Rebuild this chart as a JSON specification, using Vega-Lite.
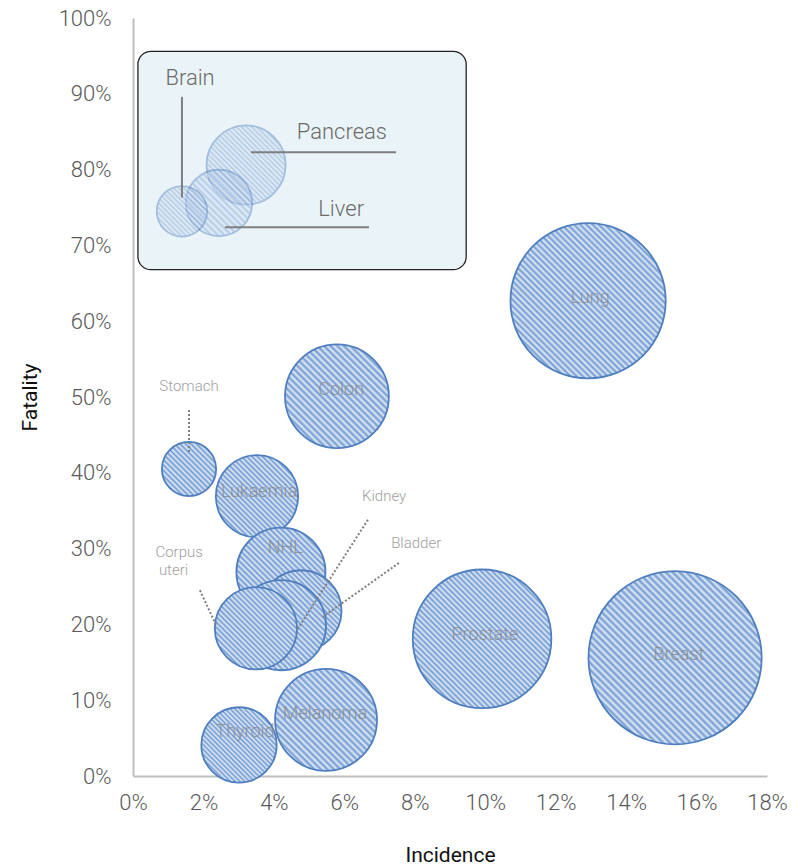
{
  "$schema": "https://vega.github.io/schema/vega-lite/v6.json",
  "width": 634,
  "height": 758,
  "autosize": "none",
  "padding": {"left": 133, "top": 18, "right": 38, "bottom": 90},
  "background": "white",
  "config": {
    "font": "Roboto",
    "view": {"stroke": null},
    "axis": {"grid": false, "ticks": false, "labelFlush": false, "labelOverlap": false, "domainColor": "#bfbfbf", "domainWidth": 2, "labelColor": "#595959", "labelFont": "Roboto", "labelFontSize": 22, "labelFontWeight": 300, "titleFont": "Roboto", "titleFontSize": 21, "titleFontWeight": "normal", "titleColor": "#111111"}
  },
  "datasets": {
    "bubbles": [
      {"name": "Lung", "incidence": 12.92, "fatality": 62.7, "size": 246, "group": "L", "inset": false},
      {"name": "Breast", "incidence": 15.39, "fatality": 15.6, "size": 306, "group": "L", "inset": false},
      {"name": "Prostate", "incidence": 9.91, "fatality": 18.1, "size": 196, "group": "L", "inset": false},
      {"name": "Colon", "incidence": 5.79, "fatality": 50.1, "size": 110, "group": "M", "inset": false},
      {"name": "Lukaemia", "incidence": 3.52, "fatality": 36.9, "size": 69, "group": "M", "inset": false},
      {"name": "NHL", "incidence": 4.2, "fatality": 26.9, "size": 81, "group": "M", "inset": false},
      {"name": "Bladder", "incidence": 4.77, "fatality": 21.8, "size": 67, "group": "M", "inset": false},
      {"name": "Kidney", "incidence": 4.2, "fatality": 19.9, "size": 83, "group": "M", "inset": false},
      {"name": "Corpus uteri", "incidence": 3.49, "fatality": 19.5, "size": 69, "group": "M", "inset": false},
      {"name": "Melanoma", "incidence": 5.48, "fatality": 7.4, "size": 106, "group": "M", "inset": false},
      {"name": "Thyroid", "incidence": 3.01, "fatality": 4.1, "size": 58, "group": "M", "inset": false},
      {"name": "Pancreas", "incidence": 3.21, "fatality": 80.6, "size": 64, "group": "M", "inset": true},
      {"name": "Stomach", "incidence": 1.59, "fatality": 40.5, "size": 30, "group": "S", "inset": false},
      {"name": "Liver", "incidence": 2.44, "fatality": 75.6, "size": 45, "group": "S", "inset": true},
      {"name": "Brain", "incidence": 1.39, "fatality": 74.5, "size": 26, "group": "S", "inset": true}
    ],
    "box": [{"x": 0.14, "x2": 9.46, "y": 95.6, "y2": 66.8}],
    "innerLabels": [
      {"label": "Lung", "x": 12.98, "y": 63.1},
      {"label": "Colon", "x": 5.91, "y": 50.9},
      {"label": "Lukaemia", "x": 3.58, "y": 37.5},
      {"label": "NHL", "x": 4.32, "y": 30.1},
      {"label": "Prostate", "x": 9.99, "y": 18.6},
      {"label": "Breast", "x": 15.5, "y": 16.0},
      {"label": "Melanoma", "x": 5.45, "y": 8.2},
      {"label": "Thyroid", "x": 3.18, "y": 5.8}
    ],
    "outerLabels": [
      {"label": "Stomach", "x": 1.59, "y": 51.5},
      {"label": "Kidney", "x": 7.13, "y": 36.9},
      {"label": "Bladder", "x": 8.04, "y": 30.7},
      {"label": "Corpus", "x": 1.31, "y": 29.6},
      {"label": "uteri", "x": 1.15, "y": 27.2}
    ],
    "insetLabels": [
      {"label": "Brain", "x": 1.62, "y": 92.1},
      {"label": "Pancreas", "x": 5.93, "y": 85.0},
      {"label": "Liver", "x": 5.91, "y": 74.8}
    ],
    "dotted": [
      {"x": 1.59, "y": 48.3, "x2": 1.59, "y2": 42.7},
      {"x": 6.67, "y": 33.8, "x2": 4.66, "y2": 19.3},
      {"x": 7.55, "y": 28.1, "x2": 5.39, "y2": 21.0},
      {"x": 1.9, "y": 24.5, "x2": 2.36, "y2": 19.9}
    ],
    "solid": [
      {"x": 1.39, "y": 89.6, "x2": 1.39, "y2": 76.3},
      {"x": 3.35, "y": 82.3, "x2": 7.47, "y2": 82.3},
      {"x": 2.61, "y": 72.4, "x2": 6.7, "y2": 72.4}
    ]
  },
  "encoding": {
    "x": {"field": "x", "type": "quantitative", "scale": {"domain": [0, 18], "nice": false}, "axis": {"title": "Incidence", "values": [0, 2, 4, 6, 8, 10, 12, 14, 16, 18], "labelExpr": "datum.value + '%'", "labelPadding": 16, "titlePadding": 31}},
    "y": {"field": "y", "type": "quantitative", "scale": {"domain": [0, 100], "nice": false}, "axis": {"title": "Fatality", "values": [0, 10, 20, 30, 40, 50, 60, 70, 80, 90, 100], "labelExpr": "datum.value + '%'", "labelPadding": 22, "titlePadding": 18}}
  },
  "layer": [
    {
      "data": {"name": "box"},
      "mark": {"type": "rect", "fill": "#eaf4f8", "stroke": "#222222", "strokeWidth": 1.3, "cornerRadius": 13},
      "encoding": {"x2": {"field": "x2"}, "y2": {"field": "y2"}}
    },
    {
      "data": {"name": "bubbles"},
      "transform": [{"filter": "datum.group == 'L'"}],
      "mark": {"type": "point", "shape": "circle", "filled": true, "stroke": "#4f7fbf", "strokeWidth": 1.8, "fill": {"gradient": "linear", "x1": 1, "y1": 0, "x2": 0, "y2": 1, "stops": [
        {"offset": 0, "color": "#729bd2"}, {"offset": 0.01, "color": "#e0e9f6"}, {"offset": 0.02, "color": "#729bd2"}, {"offset": 0.03, "color": "#e0e9f6"}, {"offset": 0.04, "color": "#729bd2"}, {"offset": 0.05, "color": "#e0e9f6"}, {"offset": 0.06, "color": "#729bd2"}, {"offset": 0.07, "color": "#e0e9f6"}, {"offset": 0.08, "color": "#729bd2"}, {"offset": 0.09, "color": "#e0e9f6"},
        {"offset": 0.1, "color": "#729bd2"}, {"offset": 0.11, "color": "#e0e9f6"}, {"offset": 0.12, "color": "#729bd2"}, {"offset": 0.13, "color": "#e0e9f6"}, {"offset": 0.14, "color": "#729bd2"}, {"offset": 0.15, "color": "#e0e9f6"}, {"offset": 0.16, "color": "#729bd2"}, {"offset": 0.17, "color": "#e0e9f6"}, {"offset": 0.18, "color": "#729bd2"}, {"offset": 0.19, "color": "#e0e9f6"},
        {"offset": 0.2, "color": "#729bd2"}, {"offset": 0.21, "color": "#e0e9f6"}, {"offset": 0.22, "color": "#729bd2"}, {"offset": 0.23, "color": "#e0e9f6"}, {"offset": 0.24, "color": "#729bd2"}, {"offset": 0.25, "color": "#e0e9f6"}, {"offset": 0.26, "color": "#729bd2"}, {"offset": 0.27, "color": "#e0e9f6"}, {"offset": 0.28, "color": "#729bd2"}, {"offset": 0.29, "color": "#e0e9f6"},
        {"offset": 0.3, "color": "#729bd2"}, {"offset": 0.31, "color": "#e0e9f6"}, {"offset": 0.32, "color": "#729bd2"}, {"offset": 0.33, "color": "#e0e9f6"}, {"offset": 0.34, "color": "#729bd2"}, {"offset": 0.35, "color": "#e0e9f6"}, {"offset": 0.36, "color": "#729bd2"}, {"offset": 0.37, "color": "#e0e9f6"}, {"offset": 0.38, "color": "#729bd2"}, {"offset": 0.39, "color": "#e0e9f6"},
        {"offset": 0.4, "color": "#729bd2"}, {"offset": 0.41, "color": "#e0e9f6"}, {"offset": 0.42, "color": "#729bd2"}, {"offset": 0.43, "color": "#e0e9f6"}, {"offset": 0.44, "color": "#729bd2"}, {"offset": 0.45, "color": "#e0e9f6"}, {"offset": 0.46, "color": "#729bd2"}, {"offset": 0.47, "color": "#e0e9f6"}, {"offset": 0.48, "color": "#729bd2"}, {"offset": 0.49, "color": "#e0e9f6"},
        {"offset": 0.5, "color": "#729bd2"}, {"offset": 0.51, "color": "#e0e9f6"}, {"offset": 0.52, "color": "#729bd2"}, {"offset": 0.53, "color": "#e0e9f6"}, {"offset": 0.54, "color": "#729bd2"}, {"offset": 0.55, "color": "#e0e9f6"}, {"offset": 0.56, "color": "#729bd2"}, {"offset": 0.57, "color": "#e0e9f6"}, {"offset": 0.58, "color": "#729bd2"}, {"offset": 0.59, "color": "#e0e9f6"},
        {"offset": 0.6, "color": "#729bd2"}, {"offset": 0.61, "color": "#e0e9f6"}, {"offset": 0.62, "color": "#729bd2"}, {"offset": 0.63, "color": "#e0e9f6"}, {"offset": 0.64, "color": "#729bd2"}, {"offset": 0.65, "color": "#e0e9f6"}, {"offset": 0.66, "color": "#729bd2"}, {"offset": 0.67, "color": "#e0e9f6"}, {"offset": 0.68, "color": "#729bd2"}, {"offset": 0.69, "color": "#e0e9f6"},
        {"offset": 0.7, "color": "#729bd2"}, {"offset": 0.71, "color": "#e0e9f6"}, {"offset": 0.72, "color": "#729bd2"}, {"offset": 0.73, "color": "#e0e9f6"}, {"offset": 0.74, "color": "#729bd2"}, {"offset": 0.75, "color": "#e0e9f6"}, {"offset": 0.76, "color": "#729bd2"}, {"offset": 0.77, "color": "#e0e9f6"}, {"offset": 0.78, "color": "#729bd2"}, {"offset": 0.79, "color": "#e0e9f6"},
        {"offset": 0.8, "color": "#729bd2"}, {"offset": 0.81, "color": "#e0e9f6"}, {"offset": 0.82, "color": "#729bd2"}, {"offset": 0.83, "color": "#e0e9f6"}, {"offset": 0.84, "color": "#729bd2"}, {"offset": 0.85, "color": "#e0e9f6"}, {"offset": 0.86, "color": "#729bd2"}, {"offset": 0.87, "color": "#e0e9f6"}, {"offset": 0.88, "color": "#729bd2"}, {"offset": 0.89, "color": "#e0e9f6"},
        {"offset": 0.9, "color": "#729bd2"}, {"offset": 0.91, "color": "#e0e9f6"}, {"offset": 0.92, "color": "#729bd2"}, {"offset": 0.93, "color": "#e0e9f6"}, {"offset": 0.94, "color": "#729bd2"}, {"offset": 0.95, "color": "#e0e9f6"}, {"offset": 0.96, "color": "#729bd2"}, {"offset": 0.97, "color": "#e0e9f6"}, {"offset": 0.98, "color": "#729bd2"}, {"offset": 0.99, "color": "#e0e9f6"},
        {"offset": 1, "color": "#729bd2"}
      ]}},
      "encoding": {
        "x": {"field": "incidence"},
        "y": {"field": "fatality"},
        "size": {"field": "size", "type": "quantitative", "scale": {"type": "linear", "domain": [0, 300], "range": [0, 29400], "zero": true}, "legend": null},
        "opacity": {"condition": {"test": "datum.inset", "value": 0.45}, "value": 1}
      }
    },
    {
      "data": {"name": "bubbles"},
      "transform": [{"filter": "datum.group == 'M'"}],
      "mark": {"type": "point", "shape": "circle", "filled": true, "stroke": "#4f7fbf", "strokeWidth": 1.8, "fill": {"gradient": "linear", "x1": 1, "y1": 0, "x2": 0, "y2": 1, "stops": [
        {"offset": 0, "color": "#729bd2"}, {"offset": 0.016, "color": "#e0e9f6"}, {"offset": 0.032, "color": "#729bd2"}, {"offset": 0.048, "color": "#e0e9f6"}, {"offset": 0.064, "color": "#729bd2"}, {"offset": 0.08, "color": "#e0e9f6"}, {"offset": 0.096, "color": "#729bd2"}, {"offset": 0.112, "color": "#e0e9f6"},
        {"offset": 0.128, "color": "#729bd2"}, {"offset": 0.144, "color": "#e0e9f6"}, {"offset": 0.16, "color": "#729bd2"}, {"offset": 0.176, "color": "#e0e9f6"}, {"offset": 0.192, "color": "#729bd2"}, {"offset": 0.208, "color": "#e0e9f6"}, {"offset": 0.224, "color": "#729bd2"}, {"offset": 0.24, "color": "#e0e9f6"},
        {"offset": 0.256, "color": "#729bd2"}, {"offset": 0.272, "color": "#e0e9f6"}, {"offset": 0.288, "color": "#729bd2"}, {"offset": 0.304, "color": "#e0e9f6"}, {"offset": 0.32, "color": "#729bd2"}, {"offset": 0.336, "color": "#e0e9f6"}, {"offset": 0.352, "color": "#729bd2"}, {"offset": 0.368, "color": "#e0e9f6"},
        {"offset": 0.384, "color": "#729bd2"}, {"offset": 0.4, "color": "#e0e9f6"}, {"offset": 0.416, "color": "#729bd2"}, {"offset": 0.432, "color": "#e0e9f6"}, {"offset": 0.448, "color": "#729bd2"}, {"offset": 0.464, "color": "#e0e9f6"}, {"offset": 0.48, "color": "#729bd2"}, {"offset": 0.496, "color": "#e0e9f6"},
        {"offset": 0.512, "color": "#729bd2"}, {"offset": 0.528, "color": "#e0e9f6"}, {"offset": 0.544, "color": "#729bd2"}, {"offset": 0.56, "color": "#e0e9f6"}, {"offset": 0.576, "color": "#729bd2"}, {"offset": 0.592, "color": "#e0e9f6"}, {"offset": 0.608, "color": "#729bd2"}, {"offset": 0.624, "color": "#e0e9f6"},
        {"offset": 0.64, "color": "#729bd2"}, {"offset": 0.656, "color": "#e0e9f6"}, {"offset": 0.672, "color": "#729bd2"}, {"offset": 0.688, "color": "#e0e9f6"}, {"offset": 0.704, "color": "#729bd2"}, {"offset": 0.72, "color": "#e0e9f6"}, {"offset": 0.736, "color": "#729bd2"}, {"offset": 0.752, "color": "#e0e9f6"},
        {"offset": 0.768, "color": "#729bd2"}, {"offset": 0.784, "color": "#e0e9f6"}, {"offset": 0.8, "color": "#729bd2"}, {"offset": 0.816, "color": "#e0e9f6"}, {"offset": 0.832, "color": "#729bd2"}, {"offset": 0.848, "color": "#e0e9f6"}, {"offset": 0.864, "color": "#729bd2"}, {"offset": 0.88, "color": "#e0e9f6"},
        {"offset": 0.896, "color": "#729bd2"}, {"offset": 0.912, "color": "#e0e9f6"}, {"offset": 0.928, "color": "#729bd2"}, {"offset": 0.944, "color": "#e0e9f6"}, {"offset": 0.96, "color": "#729bd2"}, {"offset": 0.976, "color": "#e0e9f6"}, {"offset": 0.992, "color": "#729bd2"}
      ]}},
      "encoding": {
        "x": {"field": "incidence"},
        "y": {"field": "fatality"},
        "size": {"field": "size", "type": "quantitative", "legend": null},
        "opacity": {"condition": {"test": "datum.inset", "value": 0.45}, "value": 1}
      }
    },
    {
      "data": {"name": "bubbles"},
      "transform": [{"filter": "datum.group == 'S'"}],
      "mark": {"type": "point", "shape": "circle", "filled": true, "stroke": "#4f7fbf", "strokeWidth": 1.8, "fill": {"gradient": "linear", "x1": 1, "y1": 0, "x2": 0, "y2": 1, "stops": [
        {"offset": 0, "color": "#729bd2"}, {"offset": 0.025, "color": "#e0e9f6"}, {"offset": 0.05, "color": "#729bd2"}, {"offset": 0.075, "color": "#e0e9f6"}, {"offset": 0.1, "color": "#729bd2"}, {"offset": 0.125, "color": "#e0e9f6"}, {"offset": 0.15, "color": "#729bd2"}, {"offset": 0.175, "color": "#e0e9f6"},
        {"offset": 0.2, "color": "#729bd2"}, {"offset": 0.225, "color": "#e0e9f6"}, {"offset": 0.25, "color": "#729bd2"}, {"offset": 0.275, "color": "#e0e9f6"}, {"offset": 0.3, "color": "#729bd2"}, {"offset": 0.325, "color": "#e0e9f6"}, {"offset": 0.35, "color": "#729bd2"}, {"offset": 0.375, "color": "#e0e9f6"},
        {"offset": 0.4, "color": "#729bd2"}, {"offset": 0.425, "color": "#e0e9f6"}, {"offset": 0.45, "color": "#729bd2"}, {"offset": 0.475, "color": "#e0e9f6"}, {"offset": 0.5, "color": "#729bd2"}, {"offset": 0.525, "color": "#e0e9f6"}, {"offset": 0.55, "color": "#729bd2"}, {"offset": 0.575, "color": "#e0e9f6"},
        {"offset": 0.6, "color": "#729bd2"}, {"offset": 0.625, "color": "#e0e9f6"}, {"offset": 0.65, "color": "#729bd2"}, {"offset": 0.675, "color": "#e0e9f6"}, {"offset": 0.7, "color": "#729bd2"}, {"offset": 0.725, "color": "#e0e9f6"}, {"offset": 0.75, "color": "#729bd2"}, {"offset": 0.775, "color": "#e0e9f6"},
        {"offset": 0.8, "color": "#729bd2"}, {"offset": 0.825, "color": "#e0e9f6"}, {"offset": 0.85, "color": "#729bd2"}, {"offset": 0.875, "color": "#e0e9f6"}, {"offset": 0.9, "color": "#729bd2"}, {"offset": 0.925, "color": "#e0e9f6"}, {"offset": 0.95, "color": "#729bd2"}, {"offset": 0.975, "color": "#e0e9f6"},
        {"offset": 1, "color": "#729bd2"}
      ]}},
      "encoding": {
        "x": {"field": "incidence"},
        "y": {"field": "fatality"},
        "size": {"field": "size", "type": "quantitative", "legend": null},
        "opacity": {"condition": {"test": "datum.inset", "value": 0.45}, "value": 1}
      }
    },
    {
      "data": {"name": "solid"},
      "mark": {"type": "rule", "color": "#7f7f7f", "strokeWidth": 2},
      "encoding": {"x2": {"field": "x2"}, "y2": {"field": "y2"}}
    },
    {
      "data": {"name": "dotted"},
      "mark": {"type": "rule", "color": "#7f7f7f", "strokeWidth": 2, "strokeDash": [2, 2]},
      "encoding": {"x2": {"field": "x2"}, "y2": {"field": "y2"}}
    },
    {
      "data": {"name": "innerLabels"},
      "mark": {"type": "text", "font": "Roboto", "fontSize": 18, "fontWeight": 300, "color": "#8a8a8a", "opacity": 0.85, "baseline": "middle", "align": "center"},
      "encoding": {"text": {"field": "label"}}
    },
    {
      "data": {"name": "outerLabels"},
      "mark": {"type": "text", "font": "Roboto", "fontSize": 15, "fontWeight": 300, "color": "#a0a0a0", "baseline": "middle", "align": "center"},
      "encoding": {"text": {"field": "label"}}
    },
    {
      "data": {"name": "insetLabels"},
      "mark": {"type": "text", "font": "Roboto", "fontSize": 22, "fontWeight": 300, "color": "#6b6b6b", "baseline": "middle", "align": "center"},
      "encoding": {"text": {"field": "label"}}
    }
  ]
}
